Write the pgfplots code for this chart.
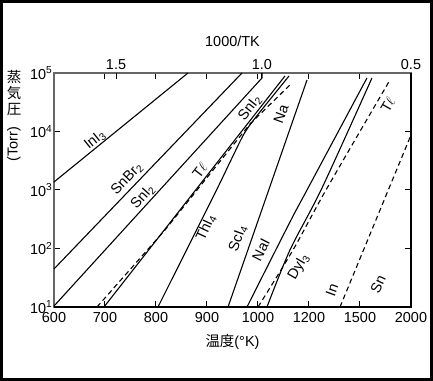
\documentclass[border=0pt]{standalone}
\usepackage{fontspec}
\setmainfont{Liberation Sans}
\newfontfamily\cjk{Noto Sans CJK JP}
\usepackage{graphicx}
\usepackage{pgfplots}
\pgfplotsset{compat=1.18}
\newcommand\lf{\fontsize{14.5}{17}\selectfont}
\begin{document}
\begin{tikzpicture}
\draw[line width=3bp] (1.5bp,1.5bp) rectangle (431.5bp,379.5bp);
\begin{axis}[
  at={(54bp,74bp)}, anchor=south west,
  width=357bp, height=234bp, scale only axis,
  xmin=0, xmax=7,
  ymode=log, ymin=10, ymax=1e5,
  xtick={0,1,2,3,4,5,6,7},
  xticklabels={600,700,800,900,1000,1200,1500,2000},
  ytick={10,100,1000,10000,100000},
  yticklabels={\mbox{10\textsuperscript{1}},\mbox{10\textsuperscript{2}},\mbox{10\textsuperscript{3}},\mbox{10\textsuperscript{4}},\mbox{10\textsuperscript{5}}},
  yminorticks=false,
  tick align=inside,
  major tick length=6bp,
  tick style={black, line width=1bp},
  axis line style={draw=gray!80!black, line width=1.3bp},
  every tick label/.append style={font=\lf, black},
  xticklabel style={yshift=-2bp},
  yticklabel style={inner sep=1.5bp},
  xlabel={{\cjk 温度}(°K)},
  xlabel style={font=\lf, at={(rel axis cs:0.5,0)}, anchor=center, yshift=-35bp},
  clip=false,
  /pgf/number format/assume math mode=true,
  cycle list={{black, line width=1.1bp}},
  dsh/.style={black, line width=1.1bp, dash pattern=on 5bp off 3.5bp},
  sl/.style={black, line width=1.1bp},
]
\draw[black, line width=1.3bp] (rel axis cs:0,0) -- (rel axis cs:1,0) -- (rel axis cs:1,1);
% InI3
\addplot[sl] coordinates {(0,1371) (2.627,100000)};
% SnBr2
\addplot[sl] coordinates {(0,44.7) (3.686,100000)};
% SnI2
\addplot[sl] coordinates {(0,10.4) (4.078,82200) (4.078,100000)};
% Tl solid
\addplot[sl] coordinates {(0.980,10) (4.529,88900)};
% Tl dashed
\addplot[dsh] coordinates {(0.843,10) (2.176,207) (3.843,13430) (4.647,64900)};
% ThI4
\addplot[sl, smooth] coordinates {(2.039,10) (2.667,124) (3.216,1125) (3.490,3524) (3.725,9060) (3.961,17700) (4.608,88900)};
% Na / ScI4
\addplot[sl] coordinates {(3.412,10) (4.961,75900)};
% NaI
\addplot[sl, smooth] coordinates {(3.784,10) (4.627,284) (4.961,1000) (6.137,82200)};
% DyI3
\addplot[sl, smooth] coordinates {(4.176,10) (4.627,94.2) (5.255,1081) (6.235,82200)};
% Te dashed
\addplot[dsh, smooth] coordinates {(4.0,10) (4.686,94.2) (5.333,1000) (6.588,75900)};
% In/Sn dashed
\addplot[dsh] coordinates {(5.608,10) (7.0,8710)};
% labels
\node[font=\lf, rotate=39] at (axis cs:0.804,7160) {InI\textsubscript{3}};
\node[font=\lf, rotate=46] at (axis cs:1.431,1542) {SnBr\textsubscript{2}};
\node[font=\lf, rotate=48] at (axis cs:1.745,759) {SnI\textsubscript{2}};
\node[font=\lf, rotate=52] at (axis cs:2.863,2113) {T$\ell$};
\node[font=\lf, rotate=52] at (axis cs:3.843,25240) {SnI\textsubscript{2}};
\node[font=\lf, rotate=70] at (axis cs:4.451,19900) {Na};
\node[font=\lf, rotate=65] at (axis cs:2.980,224) {ThI\textsubscript{4}};
\node[font=\lf, rotate=70] at (axis cs:3.608,151) {ScI\textsubscript{4}};
\node[font=\lf, rotate=63] at (axis cs:4.059,94.3) {NaI};
\node[font=\lf, rotate=60] at (axis cs:4.804,48.3) {DyI\textsubscript{3}};
\node[font=\lf, rotate=70] at (axis cs:5.451,19.5) {In};
\node[font=\lf, rotate=65] at (axis cs:6.353,24.7) {Sn};
\node[font=\lf, rotate=60] at (axis cs:6.549,28400) {T$\ell$};
\end{axis}
\begin{axis}[
  at={(54bp,74bp)}, anchor=south west,
  width=357bp, height=234bp, scale only axis,
  xmin=0, xmax=7, ymin=0, ymax=1,
  axis x line*=top, axis y line=none,
  axis line style={draw=none},
  xtick={1.216,4.078,7}, xticklabels={1.5,1.0,0.5},
  tick align=inside, major tick length=6bp,
  tick style={black, line width=1bp},
  every tick label/.append style={font=\lf, black},
  xlabel={1000/TK},
  xlabel style={font=\lf, at={(rel axis cs:0.5,1)}, anchor=center, yshift=32bp},
  /pgf/number format/assume math mode=true,
]
\addplot[draw=none] coordinates {(0,0)};
\end{axis}
\node[font=\cjk\lf] at (14bp,304bp) {蒸};
\node[font=\cjk\lf] at (14bp,288bp) {気};
\node[font=\cjk\lf] at (14bp,272bp) {圧};
\node[font=\lf, rotate=90] at (14bp,237bp) {(Torr)};
\end{tikzpicture}
\end{document}
